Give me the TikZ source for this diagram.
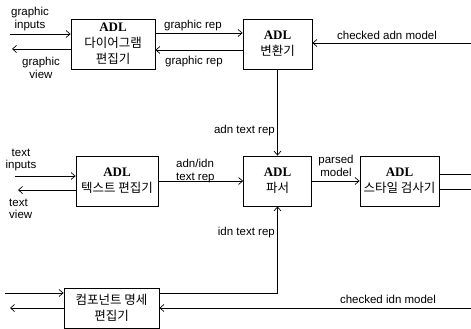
\documentclass[tikz,border=0pt]{standalone}
\usepackage{fontspec}
\setmainfont{Liberation Sans}
\newfontfamily\krfont{Noto Sans CJK KR}
\newfontfamily\adlfont{Liberation Serif}
\usetikzlibrary{
  positioning,
  arrows.meta
}
\tikzset{
  module/.style = {rectangle, draw=black, line width=0.8pt, inner sep=0pt,
                   minimum height=50pt, align=center,
                   font=\krfont\fontsize{12.5}{16}\selectfont},
  flow/.style   = {-{Straight Barb[length=4pt,width=7pt]}, line width=0.7pt},
  wire/.style   = {line width=0.7pt},
  lbl/.style    = {font=\fontsize{11.5}{12.5}\selectfont, inner sep=0pt,
                   align=center}
}
\newcommand{\ADLtag}{{\adlfont\bfseries\fontsize{13}{16}\selectfont ADL}}

\begin{document}
\begin{tikzpicture}[x=1pt,y=-1pt]
\useasboundingbox (0,0) rectangle (471,329);
% modules
\node[module, minimum width=84pt] (dedit) at (113,44) {\ADLtag\\다이어그램\\편집기};
\node[module, minimum width=69pt] (conv) at (277.5,44) {\ADLtag\\변환기};
\node[module, minimum width=82pt] (tedit) at (117,181) {\ADLtag\\텍스트 편집기};
\node[module, minimum width=68pt] (parser) at (277.5,181) {\ADLtag\\파서};
\node[module, minimum width=79pt] (style) at (399.5,181) {\ADLtag\\스타일 검사기};
\node[module, minimum width=95pt, minimum height=40pt] (cedit) at (111.5,308) {컴포넌트 명세\\편집기};

% free ends
\coordinate (gin) at (10,34);
\coordinate (gview) at (12,49);
\coordinate (cadn) at (471,43);
\coordinate (tin) at (15,176);
\coordinate (tview) at (18,190);
\coordinate (sout1) at (471,174);
\coordinate (sout2) at (471,189);
\coordinate (cin) at (5,293);
\coordinate (cview) at (10,308);
\coordinate (cidn) at (471,308);

% connectors
\draw[flow] (gin) -- (gin -| dedit.west);
\draw[flow] (gview -| dedit.west) -- (gview);
\draw[flow] ([yshift=11pt]dedit.east) -- ([yshift=11pt]conv.west);
\draw[flow] ([yshift=-6pt]conv.west) -- ([yshift=-6pt]dedit.east);
\draw[flow] (cadn) -- (cadn -| conv.east);
\draw[flow] (conv.south) -- (parser.north);
\draw[flow] (tin) -- (tin -| tedit.west);
\draw[flow] (tview -| tedit.west) -- (tview);
\draw[flow] (tedit.east) -- (parser.west);
\draw[flow] (parser.east) -- (style.west);
\draw[wire] (sout1 -| style.east) -- (sout1);
\draw[wire] (sout2 -| style.east) -- (sout2);
\draw[flow] (cin) -- (cin -| cedit.west);
\draw[flow] (cview -| cedit.west) -- (cview);
\draw[flow] ([yshift=15pt]cedit.east) -| (parser.south);
\draw[flow] (cidn) -- (cedit.east);

% labels
\node[lbl] (ginL) at (30,19) {graphic\\inputs};
\node[lbl] (gviewL) at (41,68) {graphic\\view};
\node[lbl] (grepL) at (193,26) {graphic rep};
\node[lbl] (grepbL) at (194,62) {graphic rep};
\node[lbl] (cadnL) at (387,35) {checked adn model};
\node[lbl, anchor=east] (atextL) at (275,131) {adn text rep};
\node[lbl, align=left, anchor=west] (aitextL) at (176,171) {adn/idn\\text rep};
\node[lbl] (tinL) at (21,160) {text\\inputs};
\node[lbl, align=left, anchor=west] (tviewL) at (9,209) {text\\view};
\node[lbl] (parsedL) at (336,166) {parsed\\model};
\node[lbl, anchor=east] (itextL) at (275,233) {idn text rep};
\node[lbl] (cidnL) at (388,299) {checked idn model};
\end{tikzpicture}
\end{document}
